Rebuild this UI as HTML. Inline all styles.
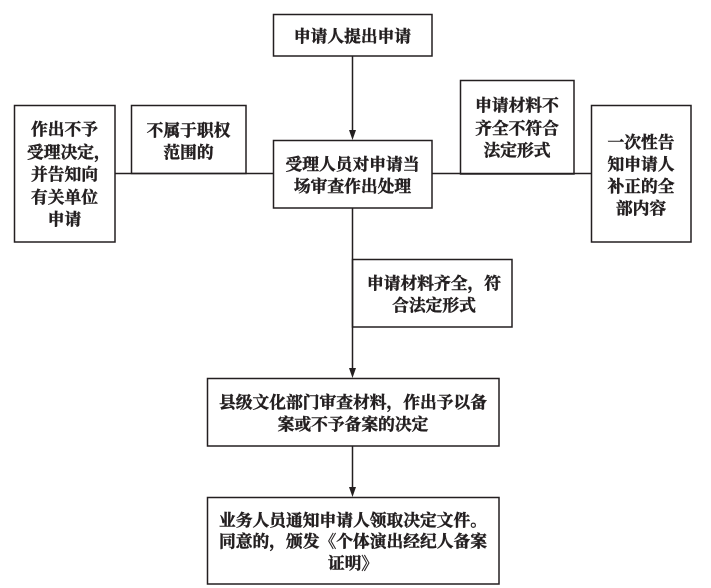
<!DOCTYPE html>
<html>
<head>
<meta charset="utf-8">
<style>
  html, body { margin:0; padding:0; background:#fff; }
  body { width:711px; height:588px; position:relative; overflow:hidden; }
  svg { position:absolute; left:0; top:0; }
  .t {
    position:absolute;
    display:flex; align-items:center; justify-content:center;
    text-align:center;
    font-family:"Noto Serif CJK SC","Liberation Serif",serif;
    font-weight:bold;
    font-size:16.75px;
    line-height:22px;
    color:#231f20;
    white-space:nowrap;
    -webkit-text-stroke:0.45px #231f20;
  }
  .t > div { text-align:center; }
  .hc { display:inline-block; width:8px; overflow:visible; text-align:left; }
</style>
</head>
<body>
<svg width="711" height="588" viewBox="0 0 711 588">
  <g fill="none" stroke="#231f20" stroke-width="1.5">
    <rect x="273.5" y="14.5" width="158.5" height="41.5"/>
    <rect x="273.5" y="140.5" width="158.5" height="67.5"/>
    <rect x="14.5" y="105.5" width="100.5" height="136.5"/>
    <rect x="131.5" y="105.5" width="114.5" height="68"/>
    <rect x="460.5" y="80.5" width="113.5" height="93.5"/>
    <rect x="591.5" y="105.5" width="99.5" height="136.5"/>
    <rect x="352.5" y="259.5" width="159.5" height="67.5"/>
    <rect x="207.5" y="378.5" width="291.5" height="67.5"/>
    <rect x="207.5" y="497.5" width="291.5" height="86.5"/>
    <line x1="352.5" y1="56" x2="352.5" y2="133"/>
    <line x1="115" y1="173.5" x2="273.5" y2="173.5"/>
    <line x1="432" y1="173.5" x2="591.5" y2="173.5"/>
    <line x1="352.5" y1="208" x2="352.5" y2="371"/>
    <line x1="352.5" y1="446" x2="352.5" y2="490"/>
  </g>
  <g fill="#231f20">
    <polygon points="349,130 356,130 352.5,140"/>
    <polygon points="349,368 356,368 352.5,378"/>
    <polygon points="349,487 356,487 352.5,497"/>
  </g>
</svg>

<div class="t" style="left:273px;top:14px;width:159px;height:42px;"><div>申请人提出申请</div></div>
<div class="t" style="left:273px;top:140px;width:159px;height:68px;"><div>受理人员对申请当<br>场审查作出处理</div></div>
<div class="t" style="left:14px;top:105px;width:101px;height:137px;line-height:22.5px;"><div>作出不予<br>受理决定<span class="hc">，</span><br>并告知向<br>有关单位<br>申请</div></div>
<div class="t" style="left:131px;top:105px;width:115px;height:69px;"><div>不属于职权<br>范围的</div></div>
<div class="t" style="left:460px;top:80px;width:114px;height:94px;line-height:22.5px;"><div>申请材料不<br>齐全不符合<br>法定形式</div></div>
<div class="t" style="left:591px;top:105px;width:100px;height:137px;line-height:22px;"><div>一次性告<br>知申请人<br>补正的全<br>部内容</div></div>
<div class="t" style="left:352px;top:259px;width:160px;height:68px;padding-left:4px;box-sizing:border-box;"><div>申请材料齐全，符<br>合法定形式</div></div>
<div class="t" style="left:207px;top:378px;width:292px;height:68px;"><div>县级文化部门审查材料，作出予以备<br>案或不予备案的决定</div></div>
<div class="t" style="left:207px;top:497px;width:292px;height:88px;line-height:21.5px;"><div>业务人员通知申请人领取决定文件。<br>同意的，颁发《个体演出经纪人备案<br>证明》</div></div>
</body>
</html>
